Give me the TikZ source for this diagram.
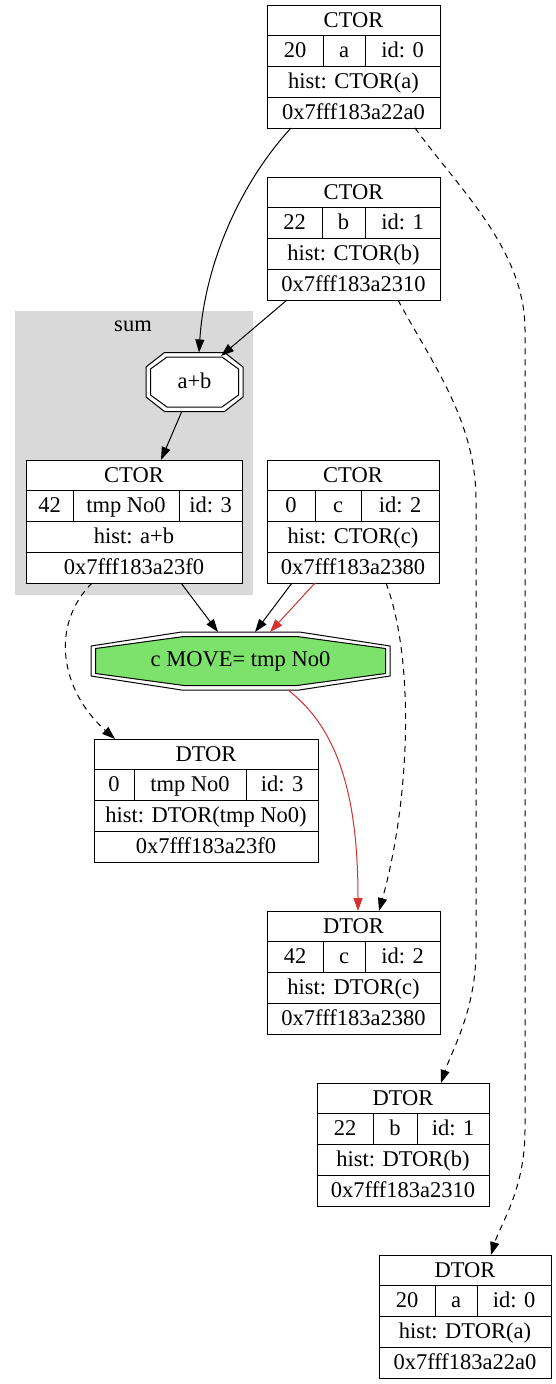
\documentclass[tikz,border=0pt]{standalone}
\usepackage{fontspec}
\setmainfont{Liberation Serif}
\usetikzlibrary{arrows.meta,calc,fit}
\definecolor{clgray}{RGB}{217,217,217}
\definecolor{edgered}{RGB}{214,48,48}
\definecolor{movegreen}{RGB}{124,226,108}
\tikzset{
  recnode/.style={draw, fill=white, line width=1pt, inner sep=0pt, outer sep=0pt},
  recline/.style={line width=1pt},
  rtext/.style={font=\fontsize{22.5}{26}\selectfont, inner sep=0pt, anchor=base},
  edge/.style={-{Triangle[length=13pt,width=9pt]}, line width=1pt},
  dashedge/.style={edge, dash pattern=on 6pt off 5pt},
  rededge/.style={edge, draw=edgered, -{Triangle[length=13pt,width=9pt,fill=edgered]}},
  octline/.style={line width=1pt},
}
\newcommand\recbox[9]{% name xl yt xr c1 c2 title hist addr
  \node[recnode, fit={(#2,#3) (#4,#3+123)}] (#1) {};
  \draw[recline] (#2,#3+30.75) -- (#4,#3+30.75);
  \draw[recline] (#2,#3+61.5) -- (#4,#3+61.5);
  \draw[recline] (#2,#3+92.25) -- (#4,#3+92.25);
  \draw[recline] (#5,#3+30.75) -- (#5,#3+61.5);
  \draw[recline] (#6,#3+30.75) -- (#6,#3+61.5);
  \node[rtext] (#1-t) at ({(#2+#4)/2},#3+22) {#7};
  \node[rtext] (#1-h) at ({(#2+#4)/2},#3+83.5) {#8};
  \node[rtext] (#1-a) at ({(#2+#4)/2},#3+114.2) {#9};
}
\newcommand\reccells[9]{% name xl yt xr c1 c2 v n id
  \node[rtext] (#1-v) at ({(#2+#5)/2},#3+52.8) {#7};
  \node[rtext] (#1-n) at ({(#5+#6)/2},#3+52.8) {#8};
  \node[rtext] (#1-i) at ({(#6+#4)/2},#3+52.8) {#9};
}
\newcommand\octpath[6]{%
  (#1-#4,#2-#5) -- (#1+#4,#2-#5) -- (#1+#3,#2-#6) -- (#1+#3,#2+#6) -- (#1+#4,#2+#5) -- (#1-#4,#2+#5) -- (#1-#3,#2+#6) -- (#1-#3,#2-#6) -- cycle}
\begin{document}
\begin{tikzpicture}[x=1pt,y=-1pt]
\useasboundingbox[fill=white] (0,0) rectangle (556,1384);
% cluster
\fill[clgray] (15,311) rectangle (253,595);
\node[rtext] (sumlabel) at (133,331) {sum};
% records
\recbox{A}{267}{5}{440}{323}{365}{CTOR}{hist: CTOR(a)}{0x7fff183a22a0}
\reccells{A}{267}{5}{440}{323}{365}{20}{a}{id: 0}
\recbox{B}{267}{177}{440}{322}{365}{CTOR}{hist: CTOR(b)}{0x7fff183a2310}
\reccells{B}{267}{177}{440}{322}{365}{22}{b}{id: 1}
\recbox{T}{26}{460}{242}{73}{179}{CTOR}{hist: a+b}{0x7fff183a23f0}
\reccells{T}{26}{460}{242}{73}{179}{42}{tmp No0}{id: 3}
\recbox{C}{267}{460}{439}{315}{361}{CTOR}{hist: CTOR(c)}{0x7fff183a2380}
\reccells{C}{267}{460}{439}{315}{361}{0}{c}{id: 2}
\recbox{Dt}{94}{739}{318}{134}{246}{DTOR}{hist: DTOR(tmp No0)}{0x7fff183a23f0}
\reccells{Dt}{94}{739}{318}{134}{246}{0}{tmp No0}{id: 3}
\recbox{Dc}{267}{911}{440}{323}{365}{DTOR}{hist: DTOR(c)}{0x7fff183a2380}
\reccells{Dc}{267}{911}{440}{323}{365}{42}{c}{id: 2}
\recbox{Db}{317}{1083}{489}{373}{417}{DTOR}{hist: DTOR(b)}{0x7fff183a2310}
\reccells{Db}{317}{1083}{489}{373}{417}{22}{b}{id: 1}
\recbox{Da}{379}{1255}{551}{435}{477}{DTOR}{hist: DTOR(a)}{0x7fff183a22a0}
\reccells{Da}{379}{1255}{551}{435}{477}{20}{a}{id: 0}
% octagon a+b
\filldraw[octline, fill=white] \octpath{194.5}{382}{48.5}{30}{29.5}{15};
\draw[octline] \octpath{194.5}{382}{44}{27.5}{25}{13};
\node[inner sep=0pt, outer sep=0pt, fit={(146,352.5) (243,411.5)}] (ab) {};
\node[rtext] (abtext) at (194.5,388.5) {a+b};
% octagon move
\filldraw[octline, fill=white] \octpath{240.5}{661}{149.5}{59}{29}{15};
\filldraw[octline, fill=movegreen] \octpath{240.5}{661}{145}{56.5}{24.5}{12.5};
\node[inner sep=0pt, outer sep=0pt, fit={(91,632) (390,690)}] (mv) {};
\node[rtext] (mvtext) at (240.5,666) {c MOVE= tmp No0};
% edges
\draw[edge] ([xshift=24pt]A.south west) .. controls (243,180) and (205,260) .. ([xshift=4.5pt]ab.north);
\draw[edge] ([xshift=20pt]B.south west) -- ($(ab.center)+(26.5,-26)$);
\draw[edge] ($(ab.center)+(-12.5,29)$) -- ([xshift=135pt]T.north west);
\draw[edge] ([xshift=155pt]T.south west) -- ([xshift=-22.5pt]mv.north);
\draw[edge] ([xshift=25pt]C.south west) -- ([xshift=14.5pt]mv.north);
\draw[rededge] ([xshift=48pt]C.south west) -- ([xshift=29.5pt]mv.north);
\draw[rededge] ([xshift=47.5pt]mv.south) .. controls (340,730) and (358,800) .. ([xshift=91pt]Dc.north west);
\draw[dashedge] ([xshift=119pt]C.south west) .. controls (415,660) and (410,800) .. ([xshift=112pt]Dc.north west);
\draw[dashedge] ([xshift=66pt]T.south west) .. controls (50,625) and (60,690) .. ([xshift=21pt]Dt.north west);
\draw[dashedge] ([xshift=131pt]B.south west) .. controls (430,360) and (476,420) .. (476,500) -- (476,950) .. controls (476,1010) and (452,1050) .. ([xshift=124pt]Db.north west);
\draw[dashedge] ([xshift=148pt]A.south west) .. controls (460,190) and (525,250) .. (525,330) -- (525,1130) .. controls (525,1190) and (500,1225) .. ([xshift=112pt]Da.north west);
\end{tikzpicture}
\end{document}
